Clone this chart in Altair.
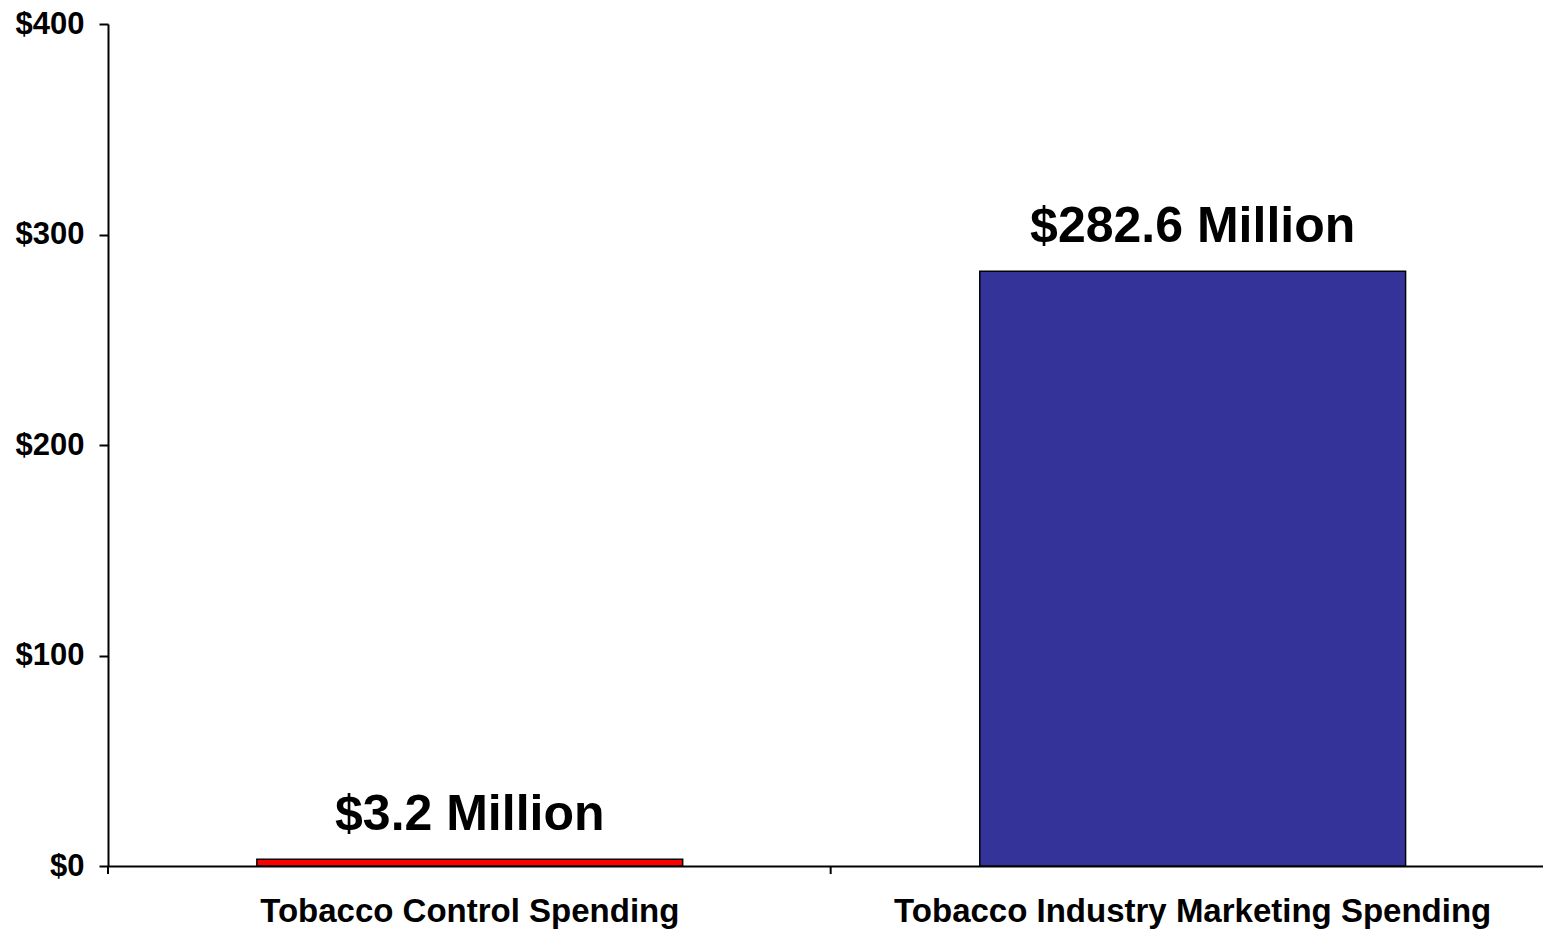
import altair as alt
import pandas as pd

categories = ["Tobacco Control Spending", "Tobacco Industry Marketing Spending"]
values = [3.2, 282.6]
value_labels = ["$3.2 Million", "$282.6 Million"]
bar_colors = ["#FF0000", "#333399"]
y_ticks = [0, 100, 200, 300, 400]

df = pd.DataFrame({"cat": categories, "value": values, "label": value_labels})
df_tick = pd.DataFrame({"cat": categories[:1]})

FONT = "Liberation Sans"

x_enc = alt.X(
    "cat:N",
    sort=categories,
    scale=alt.Scale(paddingInner=0.411, paddingOuter=0.198, align=0.52),
    axis=alt.Axis(
        title=None, labelAngle=0, ticks=False, labelFont=FONT, labelFontSize=33,
        labelFontWeight="bold", labelColor="black", domainColor="black",
        domainWidth=2, labelPadding=29, labelLimit=0,
    ),
)
y_enc = alt.Y(
    "value:Q",
    scale=alt.Scale(domain=[0, 400]),
    axis=alt.Axis(
        values=y_ticks, labelExpr="'$' + datum.value", grid=False, title=None,
        tickSize=9, tickColor="black", tickWidth=2, domainColor="black",
        domainWidth=2, labelPadding=15, labelFont=FONT, labelFontSize=31,
        labelFontWeight="bold", labelColor="black",
    ),
)

base = alt.Chart(df)

bars = base.mark_bar(stroke="black", strokeWidth=1.5).encode(
    x=x_enc,
    y=y_enc,
    color=alt.Color("cat:N", scale=alt.Scale(domain=categories, range=bar_colors), legend=None),
)

text = base.mark_text(
    baseline="alphabetic", dy=-29, fontSize=50, fontWeight="bold", font=FONT, color="black"
).encode(x=alt.X("cat:N", sort=categories), y="value:Q", text="label:N")

mid_tick = alt.Chart(df_tick).mark_rule(color="black", strokeWidth=2, xOffset=148).encode(
    x=alt.X("cat:N", sort=categories, bandPosition=1),
    y=alt.value(842),
    y2=alt.value(850),
)

left_tick = alt.Chart(df_tick).mark_rule(color="black", strokeWidth=2).encode(
    x=alt.value(0),
    y=alt.value(842),
    y2=alt.value(850),
)

chart = (
    alt.layer(bars, text, mid_tick, left_tick)
    .properties(
        width=1435,
        height=842,
        autosize=alt.AutoSizeParams(type="none"),
        padding={"left": 108, "top": 24, "right": 0, "bottom": 65},
        background="white",
    )
    .configure_view(stroke=None)
)

chart.save("out.html", embed_options={"renderer": "svg", "actions": False})
